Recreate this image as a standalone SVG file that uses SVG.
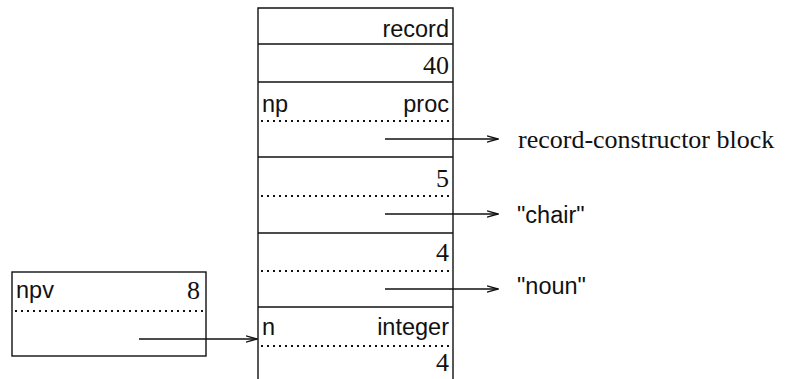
<svg xmlns="http://www.w3.org/2000/svg" width="786" height="379" viewBox="0 0 786 379">
<defs>
<marker id="ah" markerWidth="12" markerHeight="8" refX="11" refY="4" orient="auto" markerUnits="userSpaceOnUse">
<path d="M0,0.8 L11,4 L0,7.2" fill="none" stroke="#111" stroke-width="1.4"/>
</marker>
</defs>
<style>
.ln{stroke:#111;stroke-width:1.4;fill:none}
.dot{stroke:#111;stroke-width:2;fill:none;stroke-dasharray:2 4}
.h{font-family:"Liberation Sans",Arial,sans-serif;font-size:23.5px;fill:#111}
.t{font-family:"Liberation Serif","Times New Roman",serif;font-size:26px;fill:#111}
.r{text-anchor:end}
.ar{stroke:#111;stroke-width:1.4;fill:none;marker-end:url(#ah)}
</style>
<rect width="786" height="379" fill="#fff"/>
<g id="record-block">
<path class="ln" d="M258,379 V8 H453 V379"/>
<line class="ln" x1="258" y1="44" x2="453" y2="44"/>
<line class="ln" x1="258" y1="82" x2="453" y2="82"/>
<line class="dot" x1="261" y1="121" x2="452" y2="121"/>
<line class="ln" x1="258" y1="157" x2="453" y2="157"/>
<line class="dot" x1="261" y1="196" x2="452" y2="196"/>
<line class="ln" x1="258" y1="233" x2="453" y2="233"/>
<line class="dot" x1="261" y1="271" x2="452" y2="271"/>
<line class="ln" x1="258" y1="307" x2="453" y2="307"/>
<line class="dot" x1="261" y1="346" x2="452" y2="346"/>
<text class="h r" x="449" y="37">record</text>
<text class="t r" x="449" y="74">40</text>
<text class="h" x="262" y="112">np</text>
<text class="h r" x="449" y="112">proc</text>
<text class="t r" x="449" y="187">5</text>
<text class="t r" x="449" y="261">4</text>
<text class="h" x="262" y="335">n</text>
<text class="h r" x="449" y="335">integer</text>
<text class="t r" x="449" y="371">4</text>
</g>
<g id="npv-box">
<rect class="ln" x="12" y="272" width="194" height="84"/>
<line class="dot" x1="15" y1="311" x2="205" y2="311"/>
<text class="h" x="16" y="298">npv</text>
<text class="t r" x="200" y="299">8</text>
</g>
<g id="targets">
<text class="t" x="518" y="148">record-constructor block</text>
<text class="h" x="517" y="223">"chair"</text>
<text class="h" x="517" y="294">"noun"</text>
</g>
<g id="connectors">
<line class="ar" x1="385" y1="139" x2="498" y2="139"/>
<line class="ar" x1="385" y1="214" x2="498" y2="214"/>
<line class="ar" x1="385" y1="289" x2="498" y2="289"/>
<line class="ar" x1="139" y1="339" x2="257" y2="339"/>
</g>
</svg>
